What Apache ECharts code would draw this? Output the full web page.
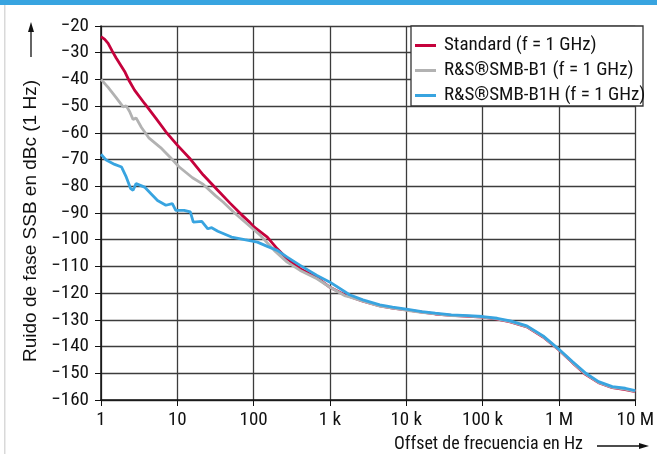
<!DOCTYPE html>
<html>
<head>
<meta charset="utf-8">
<script src="https://cdn.jsdelivr.net/npm/echarts@6/dist/echarts.min.js"></script>
<style>
  html, body { margin: 0; padding: 0; background: #fff; }
  #chart { width: 657px; height: 454px; }
</style>
</head>
<body>
<div id="chart"></div>
<script>
var FONT = "'Liberation Sans Narrow', 'Roboto Condensed', 'DejaVu Sans Condensed', sans-serif";

// x tick labels, one per decade (1 Hz ... 10 MHz)
var tickLabels = ['1', '10', '100', '1 k', '10 k', '100 k', '1 M', '10 M'];
var seriesNames = ['Standard (f = 1 GHz)', 'R&S®SMB-B1 (f = 1 GHz)', 'R&S®SMB-B1H (f = 1 GHz)'];

// close-in part
var stdFreq = [1, 1.12, 1.24, 1.41, 1.58, 2.04, 2.34, 2.75, 3.72, 5.25, 7.08, 10, 14.8, 21.9, 33.1, 49, 69.2, 89, 102, 151, 204, 275, 407, 676, 1000, 1550];
var stdVals = [-24, -25, -26.5, -29.5, -32, -37, -40.5, -44, -49, -54.6, -59.6, -64.6, -69.8, -75.8, -81.2, -86.3, -90.6, -93.5, -95.3, -99, -103.4, -107.1, -110.9, -114.2, -117.8, -120.6];

var b1Freq = [1, 1.24, 1.58, 1.95, 2.14, 2.37, 2.63, 2.88, 3.39, 4.27, 6.03, 8.6, 10.5, 15.8, 21.9, 31.6, 39.8, 56.2, 83.2, 123, 186, 275, 407, 676, 1000, 1550];
var b1Vals = [-40, -43, -46.8, -50.3, -49.9, -52, -55, -54.4, -58, -62, -65.5, -70, -72.7, -76.8, -79.3, -83.5, -85.9, -90, -94.2, -98.4, -104, -108.4, -111.5, -114.6, -117.8, -120.9];

var b1hFreq = [1, 1.17, 1.51, 1.86, 2.14, 2.45, 2.63, 2.88, 3.72, 4.52, 5.5, 7.08, 8.6, 9.55, 12.3, 14.8, 16.2, 20.9, 25.1, 28.2, 33.9, 51.3, 75.9, 112, 151, 204, 275, 407, 676, 1000, 1550];
var b1hVals = [-68, -70.2, -71.8, -72.8, -76.5, -80.9, -81.5, -79, -80.3, -82.8, -85.3, -87.1, -86.5, -89, -89, -89.6, -93.4, -93.1, -95.9, -95.5, -96.8, -99, -100, -100.9, -102.5, -104, -106.5, -109.6, -113.4, -115.9, -119.4];

// far-out part, where the three curves lie on top of each other
var tailFreq = [1800, 2700, 4500, 6600, 10000, 16000, 24000, 39000, 65000, 100000, 155000, 230000, 380000, 620000, 1000000, 1500000, 2250000, 3300000, 5000000, 7400000, 10000000];
var stdTail = [-121.2, -123, -124.8, -125.6, -126.3, -127.1, -127.8, -128.3, -128.7, -129, -129.7, -130.8, -132.6, -136.4, -141.3, -146, -150.5, -153.5, -155.4, -156.1, -156.9];
var b1Tail = [-121.4, -123, -124.9, -125.6, -126.4, -127.2, -127.8, -128.4, -128.6, -129, -129.6, -130.7, -132.5, -136.3, -141.2, -145.9, -150.3, -153.4, -155.3, -155.9, -156.8];
var b1hTail = [-120.6, -122.5, -124.4, -125.25, -126, -126.9, -127.5, -128.1, -128.4, -128.75, -129.4, -130.4, -132.25, -136, -141, -145.6, -150, -153.1, -155, -155.6, -156.5];

function pairs(fs, vs, tf, tv) {
  var out = [];
  for (var i = 0; i < fs.length; i++) out.push([fs[i], vs[i]]);
  for (var j = 0; j < tf.length; j++) out.push([tf[j], tv[j]]);
  return out;
}

var colors = ['#c5023c', '#b2b2b2', '#38a4e0'];
var seriesData = [
  pairs(stdFreq, stdVals, tailFreq, stdTail),
  pairs(b1Freq, b1Vals, tailFreq, b1Tail),
  pairs(b1hFreq, b1hVals, tailFreq, b1hTail)
];

var myChart = echarts.init(document.getElementById('chart'));
var option = {
  animation: false,
  backgroundColor: '#fff',
  textStyle: { fontFamily: FONT },
  grid: { left: 101, top: 26, width: 542, height: 374 },
  legend: {
    orient: 'vertical',
    left: 415,
    top: 36,
    padding: 0,
    itemWidth: 21,
    itemHeight: 3,
    itemGap: 6,
    icon: 'rect',
    z: 6,
    textStyle: { fontFamily: FONT, fontSize: 19, lineHeight: 19, color: '#111', padding: [0, 0, 0, 3] },
    data: seriesNames
  },
  xAxis: {
    type: 'log',
    logBase: 10,
    min: 1,
    max: 10000000,
    axisLine: { lineStyle: { color: '#111', width: 1.5 } },
    axisTick: { show: true, inside: false, length: 6, lineStyle: { color: '#111' } },
    minorTick: { show: false },
    splitLine: { show: true, lineStyle: { color: '#3c3c3c', width: 1.3 } },
    axisLabel: {
      margin: 11,
      fontFamily: FONT,
      fontSize: 19,
      color: '#111',
      formatter: function (v) { return tickLabels[Math.round(Math.log10(v))]; }
    }
  },
  yAxis: {
    type: 'value',
    min: -160,
    max: -20,
    interval: 10,
    axisLine: { show: true, lineStyle: { color: '#111', width: 1.5 } },
    axisTick: { show: true, inside: false, length: 6, lineStyle: { color: '#111' } },
    splitLine: { show: true, lineStyle: { color: '#3c3c3c', width: 1.3 } },
    axisLabel: {
      margin: 12,
      fontFamily: FONT,
      fontSize: 19,
      color: '#111',
      formatter: function (v) { return String(v).replace('-', '\u2212'); }
    }
  },
  graphic: [
    // blue band at the top and thin grey frame line on the left
    { type: 'rect', shape: { x: 0, y: 0, width: 657, height: 5 }, style: { fill: '#38a4e0' } },
    { type: 'rect', shape: { x: 4, y: 5, width: 1.5, height: 449 }, style: { fill: '#d9d9d9' } },
    // legend box
    { type: 'rect', z: 5, shape: { x: 411, y: 26, width: 232, height: 80 }, style: { fill: '#fff', stroke: '#333', lineWidth: 1.3 } },
    // y axis title with arrow
    { type: 'text', x: 31, y: 221, rotation: Math.PI / 2,
      style: { text: 'Ruido de fase SSB en dBc (1 Hz)', font: "19px 'Liberation Sans', Arial, sans-serif", fill: '#111', align: 'center', verticalAlign: 'middle' } },
    { type: 'line', shape: { x1: 31, y1: 57, x2: 31, y2: 30 }, style: { stroke: '#111', lineWidth: 1.3 } },
    { type: 'polygon', shape: { points: [[31, 22], [28, 32], [34, 32]] }, style: { fill: '#111' } },
    // x axis title with arrow
    { type: 'text', x: 583, y: 444,
      style: { text: 'Offset de frecuencia en Hz', font: '18px ' + FONT, fill: '#111', align: 'right', verticalAlign: 'middle' } },
    { type: 'line', shape: { x1: 597, y1: 446, x2: 640, y2: 446 }, style: { stroke: '#111', lineWidth: 1.3 } },
    { type: 'polygon', shape: { points: [[649, 446], [639, 443], [639, 449]] }, style: { fill: '#111' } }
  ],
  series: seriesNames.map(function (name, i) {
    return {
      name: name,
      type: 'line',
      data: seriesData[i],
      showSymbol: false,
      symbol: 'none',
      color: colors[i],
      lineStyle: { color: colors[i], width: 2.8 },
      z: 2 + i
    };
  })
};
myChart.setOption(option);
</script>
</body>
</html>
